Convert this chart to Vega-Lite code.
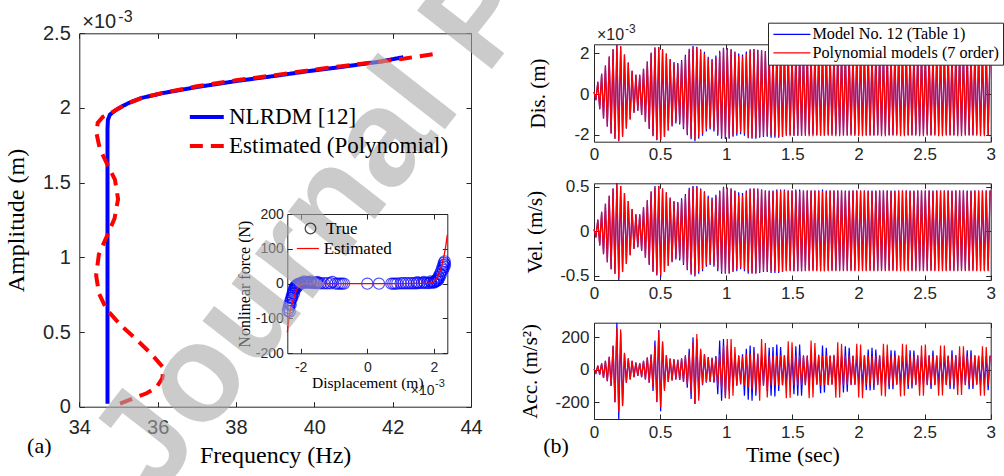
{
"$schema": "https://vega.github.io/schema/vega-lite/v6.json",
"width": 1004, "height": 476, "padding": 0, "autosize": {"type": "none"},
"background": "white",
"config": {
  "view": {"stroke": null},
  "axis": {"grid": false, "labelFlush": false, "labelOverlap": false, "tickSize": -5, "tickColor": "#262626", "domainColor": "#262626", "labelColor": "#262626", "labelFont": "Liberation Sans", "titleFont": "Liberation Serif", "titleFontWeight": "normal", "titleColor": "#000000"},
  "legend": {"labelFont": "Liberation Serif", "labelColor": "#000000", "labelLimit": 500}
},
"datasets": {
  "nlrdm": [{"i":0,"f":34.72,"a":0.02},{"i":1,"f":34.72,"a":1.0},{"i":2,"f":34.72,"a":1.86},{"i":3,"f":34.73,"a":1.92},{"i":4,"f":34.78,"a":1.955},{"i":5,"f":34.9,"a":1.98},{"i":6,"f":35.1,"a":2.012},{"i":7,"f":35.3,"a":2.038},{"i":8,"f":35.6,"a":2.068},{"i":9,"f":36.14,"a":2.1},{"i":10,"f":37.0,"a":2.14},{"i":11,"f":38.0,"a":2.18},{"i":12,"f":39.0,"a":2.215},{"i":13,"f":39.8,"a":2.245},{"i":14,"f":40.7,"a":2.275},{"i":15,"f":41.67,"a":2.31},{"i":16,"f":42.27,"a":2.34}],
  "poly": [{"i":0,"f":35.04,"a":0.02},{"i":1,"f":35.38,"a":0.056},{"i":2,"f":35.72,"a":0.09},{"i":3,"f":35.97,"a":0.13},{"i":4,"f":36.12,"a":0.19},{"i":5,"f":36.15,"a":0.26},{"i":6,"f":35.85,"a":0.35},{"i":7,"f":35.46,"a":0.45},{"i":8,"f":35.08,"a":0.54},{"i":9,"f":34.7,"a":0.65},{"i":10,"f":34.5,"a":0.76},{"i":11,"f":34.43,"a":0.88},{"i":12,"f":34.5,"a":1.02},{"i":13,"f":34.7,"a":1.14},{"i":14,"f":34.9,"a":1.26},{"i":15,"f":34.99,"a":1.39},{"i":16,"f":34.91,"a":1.52},{"i":17,"f":34.7,"a":1.63},{"i":18,"f":34.52,"a":1.73},{"i":19,"f":34.44,"a":1.83},{"i":20,"f":34.47,"a":1.9},{"i":21,"f":34.6,"a":1.94},{"i":22,"f":34.78,"a":1.962},{"i":23,"f":34.95,"a":1.99},{"i":24,"f":35.2,"a":2.025},{"i":25,"f":35.6,"a":2.068},{"i":26,"f":36.14,"a":2.102},{"i":27,"f":37.0,"a":2.145},{"i":28,"f":38.0,"a":2.185},{"i":29,"f":39.0,"a":2.22},{"i":30,"f":39.8,"a":2.25},{"i":31,"f":40.7,"a":2.28},{"i":32,"f":41.67,"a":2.31},{"i":33,"f":42.27,"a":2.33},{"i":34,"f":43.03,"a":2.36}],
  "force": [{"x":-2.38,"f":-78},{"x":-2.36,"f":-70},{"x":-2.34,"f":-62},{"x":-2.32,"f":-55},{"x":-2.3,"f":-48},{"x":-2.28,"f":-42},{"x":-2.26,"f":-35},{"x":-2.24,"f":-28},{"x":-2.22,"f":-22},{"x":-2.2,"f":-17},{"x":-2.18,"f":-12},{"x":-2.16,"f":-8},{"x":-2.13,"f":-5},{"x":-2.1,"f":-3},{"x":-2.07,"f":-1},{"x":-2.04,"f":0},{"x":-2.0,"f":1},{"x":-1.96,"f":2},{"x":-1.92,"f":3},{"x":-1.88,"f":3},{"x":-1.84,"f":4},{"x":-1.8,"f":3},{"x":-1.76,"f":4},{"x":-1.72,"f":3},{"x":-1.68,"f":3},{"x":-1.64,"f":2},{"x":-1.6,"f":3},{"x":-1.56,"f":2},{"x":-1.52,"f":2},{"x":-1.46,"f":2},{"x":-1.4,"f":1},{"x":-1.3,"f":1},{"x":-1.2,"f":1},{"x":-1.1,"f":1},{"x":-1.05,"f":5},{"x":-0.95,"f":0},{"x":-0.88,"f":0},{"x":-0.82,"f":0},{"x":-0.76,"f":0},{"x":-0.7,"f":0},{"x":0.0,"f":0},{"x":0.35,"f":0},{"x":0.72,"f":0},{"x":0.78,"f":0},{"x":0.84,"f":0},{"x":0.9,"f":0},{"x":1.0,"f":1},{"x":1.08,"f":1},{"x":1.16,"f":1},{"x":1.24,"f":1},{"x":1.32,"f":1},{"x":1.4,"f":1},{"x":1.48,"f":1},{"x":1.56,"f":2},{"x":1.64,"f":2},{"x":1.72,"f":2},{"x":1.8,"f":2},{"x":1.86,"f":2},{"x":1.92,"f":3},{"x":1.98,"f":4},{"x":2.02,"f":6},{"x":2.06,"f":9},{"x":2.1,"f":14},{"x":2.14,"f":20},{"x":2.18,"f":28},{"x":2.22,"f":36},{"x":2.25,"f":45},{"x":2.28,"f":53},{"x":2.3,"f":60},{"x":2.32,"f":64},{"x":2.33,"f":55},{"x":2.31,"f":48},{"x":2.27,"f":40},{"x":2.2,"f":25},{"x":2.12,"f":10},{"x":-2.33,"f":-80},{"x":-2.3,"f":-60},{"x":-2.25,"f":-40},{"x":-2.2,"f":-28},{"x":-2.15,"f":-15},{"x":-2.12,"f":-10},{"x":-2.08,"f":-6},{"x":-2.02,"f":-2},{"x":-1.9,"f":6},{"x":-1.7,"f":6},{"x":-1.5,"f":5},{"x":1.5,"f":4},{"x":1.7,"f":5},{"x":1.9,"f":6},{"x":2.0,"f":3},{"x":2.08,"f":7},{"x":2.16,"f":16}],
  "fit": [{"i":0,"x":-2.4,"f":-140},{"i":1,"x":-2.35,"f":-100},{"i":2,"x":-2.3,"f":-72},{"i":3,"x":-2.25,"f":-55},{"i":4,"x":-2.2,"f":-40},{"i":5,"x":-2.15,"f":-25},{"i":6,"x":-2.1,"f":-14},{"i":7,"x":-2.05,"f":-7},{"i":8,"x":-2.0,"f":-3},{"i":9,"x":-1.9,"f":0},{"i":10,"x":-1.5,"f":1},{"i":11,"x":-1.0,"f":0},{"i":12,"x":0,"f":0},{"i":13,"x":1.0,"f":0},{"i":14,"x":1.5,"f":1},{"i":15,"x":1.8,"f":1},{"i":16,"x":1.95,"f":3},{"i":17,"x":2.05,"f":10},{"i":18,"x":2.1,"f":18},{"i":19,"x":2.2,"f":40},{"i":20,"x":2.25,"f":58},{"i":21,"x":2.3,"f":80},{"i":22,"x":2.35,"f":105},{"i":23,"x":2.4,"f":140}],
  "osc": [
{"t":0,"d1":0.1,"d2":0.1,"v1":0.02,"v2":0.02,"a1":5,"a2":5},
{"t":0.0144,"d1":-0.3,"d2":-0.3,"v1":-0.07,"v2":-0.07,"a1":-20,"a2":-20},
{"t":0.0288,"d1":0.6,"d2":0.6,"v1":0.13,"v2":0.13,"a1":25,"a2":25},
{"t":0.0432,"d1":-0.75,"d2":-0.75,"v1":-0.16,"v2":-0.16,"a1":-30,"a2":-30},
{"t":0.0576,"d1":1.0,"d2":1.0,"v1":0.22,"v2":0.22,"a1":40,"a2":40},
{"t":0.072,"d1":-1.2,"d2":-1.2,"v1":-0.26,"v2":-0.26,"a1":-50,"a2":-50},
{"t":0.0864,"d1":1.4,"d2":1.4,"v1":0.31,"v2":0.31,"a1":55,"a2":55},
{"t":0.1008,"d1":-1.6,"d2":-1.6,"v1":-0.35,"v2":-0.35,"a1":-70,"a2":-70},
{"t":0.1152,"d1":1.85,"d2":1.85,"v1":0.4,"v2":0.4,"a1":80,"a2":80},
{"t":0.1296,"d1":-1.95,"d2":-1.95,"v1":-0.43,"v2":-0.43,"a1":-100,"a2":-100},
{"t":0.144,"d1":2.2,"d2":2.2,"v1":0.48,"v2":0.48,"a1":150,"a2":145},
{"t":0.1584,"d1":-2.2,"d2":-2.2,"v1":-0.48,"v2":-0.48,"a1":-200,"a2":-200},
{"t":0.1728,"d1":2.43,"d2":2.42,"v1":0.54,"v2":0.53,"a1":290,"a2":260},
{"t":0.1872,"d1":-2.33,"d2":-2.3,"v1":-0.55,"v2":-0.53,"a1":-303,"a2":-260},
{"t":0.2016,"d1":2.35,"d2":2.35,"v1":0.51,"v2":0.51,"a1":230,"a2":250},
{"t":0.216,"d1":-2.1,"d2":-2.1,"v1":-0.46,"v2":-0.46,"a1":-220,"a2":-225},
{"t":0.2304,"d1":1.95,"d2":1.95,"v1":0.43,"v2":0.43,"a1":100,"a2":105},
{"t":0.2448,"d1":-1.7,"d2":-1.7,"v1":-0.37,"v2":-0.37,"a1":-80,"a2":-80},
{"t":0.2592,"d1":1.55,"d2":1.55,"v1":0.34,"v2":0.34,"a1":70,"a2":70},
{"t":0.2736,"d1":-1.25,"d2":-1.25,"v1":-0.27,"v2":-0.27,"a1":-60,"a2":-60},
{"t":0.288,"d1":1.15,"d2":1.15,"v1":0.25,"v2":0.25,"a1":55,"a2":55},
{"t":0.3024,"d1":-0.92,"d2":-0.92,"v1":-0.2,"v2":-0.2,"a1":-45,"a2":-45},
{"t":0.3168,"d1":0.95,"d2":0.95,"v1":0.19,"v2":0.19,"a1":45,"a2":45},
{"t":0.3312,"d1":-0.82,"d2":-0.82,"v1":-0.18,"v2":-0.18,"a1":-38,"a2":-38},
{"t":0.3456,"d1":0.95,"d2":0.95,"v1":0.19,"v2":0.19,"a1":42,"a2":42},
{"t":0.36,"d1":-1.03,"d2":-1.03,"v1":-0.22,"v2":-0.22,"a1":-45,"a2":-45},
{"t":0.3744,"d1":1.25,"d2":1.25,"v1":0.27,"v2":0.27,"a1":55,"a2":55},
{"t":0.3888,"d1":-1.37,"d2":-1.37,"v1":-0.3,"v2":-0.3,"a1":-60,"a2":-60},
{"t":0.4032,"d1":1.6,"d2":1.6,"v1":0.35,"v2":0.35,"a1":75,"a2":75},
{"t":0.4176,"d1":-1.72,"d2":-1.7,"v1":-0.38,"v2":-0.37,"a1":-80,"a2":-80},
{"t":0.432,"d1":2.05,"d2":2.0,"v1":0.45,"v2":0.44,"a1":95,"a2":90},
{"t":0.4464,"d1":-2.08,"d2":-2.05,"v1":-0.46,"v2":-0.45,"a1":-130,"a2":-110},
{"t":0.4608,"d1":2.3,"d2":2.25,"v1":0.51,"v2":0.49,"a1":180,"a2":150},
{"t":0.4752,"d1":-2.28,"d2":-2.25,"v1":-0.5,"v2":-0.49,"a1":-200,"a2":-195},
{"t":0.4896,"d1":2.32,"d2":2.3,"v1":0.51,"v2":0.51,"a1":245,"a2":240},
{"t":0.504,"d1":-2.27,"d2":-2.25,"v1":-0.52,"v2":-0.5,"a1":-255,"a2":-230},
{"t":0.5184,"d1":2.2,"d2":2.2,"v1":0.48,"v2":0.48,"a1":170,"a2":175},
{"t":0.5328,"d1":-2.1,"d2":-2.1,"v1":-0.46,"v2":-0.46,"a1":-120,"a2":-130},
{"t":0.5472,"d1":2.0,"d2":2.0,"v1":0.44,"v2":0.44,"a1":90,"a2":90},
{"t":0.5616,"d1":-1.8,"d2":-1.8,"v1":-0.39,"v2":-0.39,"a1":-75,"a2":-75},
{"t":0.576,"d1":1.72,"d2":1.7,"v1":0.38,"v2":0.37,"a1":70,"a2":70},
{"t":0.5904,"d1":-1.6,"d2":-1.55,"v1":-0.35,"v2":-0.34,"a1":-65,"a2":-65},
{"t":0.6048,"d1":1.58,"d2":1.5,"v1":0.34,"v2":0.33,"a1":65,"a2":65},
{"t":0.6192,"d1":-1.45,"d2":-1.37,"v1":-0.32,"v2":-0.3,"a1":-60,"a2":-60},
{"t":0.6336,"d1":1.53,"d2":1.45,"v1":0.33,"v2":0.32,"a1":62,"a2":62},
{"t":0.648,"d1":-1.5,"d2":-1.42,"v1":-0.33,"v2":-0.31,"a1":-62,"a2":-62},
{"t":0.6624,"d1":1.68,"d2":1.6,"v1":0.37,"v2":0.35,"a1":70,"a2":70},
{"t":0.6768,"d1":-1.73,"d2":-1.65,"v1":-0.38,"v2":-0.36,"a1":-75,"a2":-72},
{"t":0.6912,"d1":1.93,"d2":1.85,"v1":0.42,"v2":0.4,"a1":90,"a2":85},
{"t":0.7056,"d1":-2.03,"d2":-1.95,"v1":-0.44,"v2":-0.43,"a1":-110,"a2":-90},
{"t":0.72,"d1":2.23,"d2":2.15,"v1":0.49,"v2":0.47,"a1":130,"a2":100},
{"t":0.7344,"d1":-2.23,"d2":-2.15,"v1":-0.49,"v2":-0.47,"a1":-180,"a2":-140},
{"t":0.7488,"d1":2.36,"d2":2.3,"v1":0.51,"v2":0.5,"a1":200,"a2":170},
{"t":0.7632,"d1":-2.33,"d2":-2.25,"v1":-0.51,"v2":-0.49,"a1":-210,"a2":-210},
{"t":0.7776,"d1":2.33,"d2":2.3,"v1":0.51,"v2":0.5,"a1":190,"a2":220},
{"t":0.792,"d1":-2.2,"d2":-2.1,"v1":-0.48,"v2":-0.46,"a1":-160,"a2":-190},
{"t":0.8064,"d1":2.2,"d2":2.15,"v1":0.48,"v2":0.47,"a1":120,"a2":130},
{"t":0.8208,"d1":-2.05,"d2":-1.95,"v1":-0.45,"v2":-0.43,"a1":-95,"a2":-90},
{"t":0.8352,"d1":2.08,"d2":2.0,"v1":0.45,"v2":0.44,"a1":95,"a2":95},
{"t":0.8496,"d1":-1.85,"d2":-1.75,"v1":-0.4,"v2":-0.38,"a1":-80,"a2":-75},
{"t":0.864,"d1":1.83,"d2":1.75,"v1":0.4,"v2":0.38,"a1":78,"a2":75},
{"t":0.8784,"d1":-1.75,"d2":-1.65,"v1":-0.38,"v2":-0.36,"a1":-75,"a2":-70},
{"t":0.8928,"d1":1.73,"d2":1.65,"v1":0.38,"v2":0.36,"a1":75,"a2":70},
{"t":0.9072,"d1":-1.85,"d2":-1.75,"v1":-0.4,"v2":-0.38,"a1":-80,"a2":-75},
{"t":0.9216,"d1":1.9,"d2":1.8,"v1":0.41,"v2":0.39,"a1":85,"a2":80},
{"t":0.936,"d1":-2.05,"d2":-1.95,"v1":-0.45,"v2":-0.43,"a1":-150,"a2":-100},
{"t":0.9504,"d1":2.13,"d2":2.05,"v1":0.46,"v2":0.45,"a1":180,"a2":95},
{"t":0.9648,"d1":-2.2,"d2":-2.1,"v1":-0.48,"v2":-0.46,"a1":-190,"a2":-120},
{"t":0.9792,"d1":2.28,"d2":2.25,"v1":0.5,"v2":0.49,"a1":190,"a2":150},
{"t":0.9936,"d1":-2.22,"d2":-2.15,"v1":-0.48,"v2":-0.47,"a1":-175,"a2":-170},
{"t":1.008,"d1":2.27,"d2":2.25,"v1":0.49,"v2":0.49,"a1":150,"a2":190},
{"t":1.0224,"d1":-2.2,"d2":-2.15,"v1":-0.48,"v2":-0.47,"a1":-130,"a2":-180},
{"t":1.0368,"d1":2.2,"d2":2.2,"v1":0.48,"v2":0.48,"a1":110,"a2":190},
{"t":1.0512,"d1":-2.1,"d2":-2.05,"v1":-0.46,"v2":-0.45,"a1":-100,"a2":-160},
{"t":1.0656,"d1":2.1,"d2":2.05,"v1":0.46,"v2":0.45,"a1":95,"a2":140},
{"t":1.08,"d1":-2.05,"d2":-1.95,"v1":-0.45,"v2":-0.43,"a1":-95,"a2":-100},
{"t":1.0944,"d1":2.0,"d2":1.9,"v1":0.44,"v2":0.41,"a1":90,"a2":85},
{"t":1.1088,"d1":-1.98,"d2":-1.88,"v1":-0.43,"v2":-0.41,"a1":-90,"a2":-85},
{"t":1.1232,"d1":1.95,"d2":1.85,"v1":0.43,"v2":0.4,"a1":95,"a2":82},
{"t":1.1376,"d1":-2.05,"d2":-1.95,"v1":-0.45,"v2":-0.43,"a1":-160,"a2":-95},
{"t":1.152,"d1":2.1,"d2":2.0,"v1":0.46,"v2":0.44,"a1":130,"a2":95},
{"t":1.1664,"d1":-2.18,"d2":-2.1,"v1":-0.48,"v2":-0.46,"a1":-185,"a2":-110},
{"t":1.1808,"d1":2.2,"d2":2.15,"v1":0.48,"v2":0.47,"a1":150,"a2":100},
{"t":1.1952,"d1":-2.2,"d2":-2.15,"v1":-0.48,"v2":-0.47,"a1":-190,"a2":-120},
{"t":1.2096,"d1":2.22,"d2":2.2,"v1":0.48,"v2":0.48,"a1":140,"a2":110},
{"t":1.224,"d1":-2.2,"d2":-2.15,"v1":-0.48,"v2":-0.47,"a1":-160,"a2":-130},
{"t":1.2384,"d1":2.18,"d2":2.15,"v1":0.48,"v2":0.47,"a1":95,"a2":100},
{"t":1.2528,"d1":-2.15,"d2":-2.1,"v1":-0.47,"v2":-0.46,"a1":-100,"a2":-190},
{"t":1.2672,"d1":2.15,"d2":2.15,"v1":0.47,"v2":0.47,"a1":90,"a2":190},
{"t":1.2816,"d1":-2.12,"d2":-2.05,"v1":-0.46,"v2":-0.45,"a1":-95,"a2":-100},
{"t":1.296,"d1":2.12,"d2":2.1,"v1":0.46,"v2":0.46,"a1":90,"a2":165},
{"t":1.3104,"d1":-2.1,"d2":-2.05,"v1":-0.46,"v2":-0.45,"a1":-130,"a2":-170},
{"t":1.3248,"d1":2.1,"d2":2.05,"v1":0.46,"v2":0.45,"a1":135,"a2":90},
{"t":1.3392,"d1":-2.15,"d2":-2.05,"v1":-0.47,"v2":-0.45,"a1":-160,"a2":-95},
{"t":1.3536,"d1":2.12,"d2":2.05,"v1":0.46,"v2":0.45,"a1":140,"a2":90},
{"t":1.368,"d1":-2.15,"d2":-2.05,"v1":-0.47,"v2":-0.45,"a1":-165,"a2":-95},
{"t":1.3824,"d1":2.15,"d2":2.1,"v1":0.47,"v2":0.46,"a1":155,"a2":90},
{"t":1.3968,"d1":-2.15,"d2":-2.1,"v1":-0.47,"v2":-0.46,"a1":-130,"a2":-95},
{"t":1.4112,"d1":2.17,"d2":2.12,"v1":0.47,"v2":0.46,"a1":140,"a2":90},
{"t":1.4256,"d1":-2.12,"d2":-2.1,"v1":-0.46,"v2":-0.46,"a1":-95,"a2":-95},
{"t":1.44,"d1":2.15,"d2":2.12,"v1":0.47,"v2":0.46,"a1":90,"a2":90},
{"t":1.4544,"d1":-2.0,"d2":-2.07,"v1":-0.44,"v2":-0.45,"a1":-90,"a2":-175},
{"t":1.4688,"d1":2.12,"d2":2.1,"v1":0.46,"v2":0.46,"a1":88,"a2":175},
{"t":1.4832,"d1":-2.02,"d2":-2.08,"v1":-0.44,"v2":-0.45,"a1":-92,"a2":-172},
{"t":1.4976,"d1":2.12,"d2":2.1,"v1":0.46,"v2":0.46,"a1":85,"a2":170},
{"t":1.512,"d1":-2.05,"d2":-2.05,"v1":-0.45,"v2":-0.45,"a1":-150,"a2":-95},
{"t":1.5264,"d1":2.14,"d2":2.08,"v1":0.47,"v2":0.45,"a1":145,"a2":88},
{"t":1.5408,"d1":-2.05,"d2":-2.05,"v1":-0.45,"v2":-0.45,"a1":-160,"a2":-95},
{"t":1.5552,"d1":2.15,"d2":2.08,"v1":0.47,"v2":0.45,"a1":155,"a2":88},
{"t":1.5696,"d1":-2.05,"d2":-2.06,"v1":-0.45,"v2":-0.45,"a1":-160,"a2":-92},
{"t":1.584,"d1":2.12,"d2":2.1,"v1":0.46,"v2":0.46,"a1":90,"a2":85},
{"t":1.5984,"d1":-2.0,"d2":-2.07,"v1":-0.44,"v2":-0.45,"a1":-95,"a2":-92},
{"t":1.6128,"d1":2.1,"d2":2.1,"v1":0.46,"v2":0.46,"a1":85,"a2":90},
{"t":1.6272,"d1":-2.0,"d2":-2.08,"v1":-0.44,"v2":-0.45,"a1":-92,"a2":-175},
{"t":1.6416,"d1":2.1,"d2":2.12,"v1":0.46,"v2":0.46,"a1":85,"a2":180},
{"t":1.656,"d1":-2.0,"d2":-2.08,"v1":-0.44,"v2":-0.45,"a1":-90,"a2":-170},
{"t":1.6704,"d1":2.1,"d2":2.12,"v1":0.46,"v2":0.46,"a1":88,"a2":165},
{"t":1.6848,"d1":-2.02,"d2":-2.06,"v1":-0.44,"v2":-0.45,"a1":-90,"a2":-92},
{"t":1.6992,"d1":2.12,"d2":2.1,"v1":0.46,"v2":0.46,"a1":92,"a2":88},
{"t":1.7136,"d1":-2.04,"d2":-2.05,"v1":-0.45,"v2":-0.45,"a1":-145,"a2":-95},
{"t":1.728,"d1":2.14,"d2":2.08,"v1":0.47,"v2":0.45,"a1":150,"a2":85},
{"t":1.7424,"d1":-2.04,"d2":-2.05,"v1":-0.45,"v2":-0.45,"a1":-140,"a2":-92},
{"t":1.7568,"d1":2.13,"d2":2.08,"v1":0.46,"v2":0.45,"a1":135,"a2":88},
{"t":1.7712,"d1":-2.0,"d2":-2.06,"v1":-0.44,"v2":-0.45,"a1":-92,"a2":-95},
{"t":1.7856,"d1":2.1,"d2":2.1,"v1":0.46,"v2":0.46,"a1":85,"a2":90},
{"t":1.8,"d1":-2.0,"d2":-2.07,"v1":-0.44,"v2":-0.45,"a1":-90,"a2":-92},
{"t":1.8144,"d1":2.1,"d2":2.1,"v1":0.46,"v2":0.46,"a1":88,"a2":92},
{"t":1.8288,"d1":-2.0,"d2":-2.08,"v1":-0.44,"v2":-0.45,"a1":-92,"a2":-172},
{"t":1.8432,"d1":2.1,"d2":2.12,"v1":0.46,"v2":0.46,"a1":85,"a2":170},
{"t":1.8576,"d1":-2.0,"d2":-2.08,"v1":-0.44,"v2":-0.45,"a1":-90,"a2":-170},
{"t":1.872,"d1":2.1,"d2":2.1,"v1":0.46,"v2":0.46,"a1":88,"a2":160},
{"t":1.8864,"d1":-2.03,"d2":-2.05,"v1":-0.44,"v2":-0.45,"a1":-140,"a2":-95},
{"t":1.9008,"d1":2.13,"d2":2.08,"v1":0.46,"v2":0.45,"a1":145,"a2":88},
{"t":1.9152,"d1":-2.03,"d2":-2.05,"v1":-0.44,"v2":-0.45,"a1":-135,"a2":-92},
{"t":1.9296,"d1":2.12,"d2":2.08,"v1":0.46,"v2":0.45,"a1":135,"a2":90},
{"t":1.944,"d1":-2.0,"d2":-2.06,"v1":-0.44,"v2":-0.45,"a1":-90,"a2":-95},
{"t":1.9584,"d1":2.1,"d2":2.1,"v1":0.46,"v2":0.46,"a1":88,"a2":85},
{"t":1.9728,"d1":-2.0,"d2":-2.07,"v1":-0.44,"v2":-0.45,"a1":-92,"a2":-92},
{"t":1.9872,"d1":2.1,"d2":2.1,"v1":0.46,"v2":0.46,"a1":85,"a2":160},
{"t":2.0016,"d1":-2.0,"d2":-2.08,"v1":-0.44,"v2":-0.45,"a1":-90,"a2":-170},
{"t":2.016,"d1":2.1,"d2":2.12,"v1":0.46,"v2":0.46,"a1":88,"a2":155},
{"t":2.0304,"d1":-2.0,"d2":-2.08,"v1":-0.44,"v2":-0.45,"a1":-92,"a2":-175},
{"t":2.0448,"d1":2.1,"d2":2.1,"v1":0.46,"v2":0.46,"a1":90,"a2":88},
{"t":2.0592,"d1":-2.03,"d2":-2.05,"v1":-0.44,"v2":-0.45,"a1":-125,"a2":-92},
{"t":2.0736,"d1":2.12,"d2":2.08,"v1":0.46,"v2":0.45,"a1":125,"a2":88},
{"t":2.088,"d1":-2.03,"d2":-2.05,"v1":-0.44,"v2":-0.45,"a1":-128,"a2":-95},
{"t":2.1024,"d1":2.13,"d2":2.08,"v1":0.46,"v2":0.45,"a1":135,"a2":85},
{"t":2.1168,"d1":-2.03,"d2":-2.05,"v1":-0.44,"v2":-0.45,"a1":-125,"a2":-92},
{"t":2.1312,"d1":2.12,"d2":2.08,"v1":0.46,"v2":0.45,"a1":125,"a2":88},
{"t":2.1456,"d1":-2.0,"d2":-2.06,"v1":-0.44,"v2":-0.45,"a1":-90,"a2":-95},
{"t":2.16,"d1":2.1,"d2":2.1,"v1":0.46,"v2":0.46,"a1":88,"a2":90},
{"t":2.1744,"d1":-2.0,"d2":-2.08,"v1":-0.44,"v2":-0.45,"a1":-90,"a2":-160},
{"t":2.1888,"d1":2.1,"d2":2.12,"v1":0.46,"v2":0.46,"a1":85,"a2":160},
{"t":2.2032,"d1":-2.0,"d2":-2.08,"v1":-0.44,"v2":-0.45,"a1":-92,"a2":-165},
{"t":2.2176,"d1":2.1,"d2":2.1,"v1":0.46,"v2":0.46,"a1":88,"a2":155},
{"t":2.232,"d1":-2.02,"d2":-2.05,"v1":-0.44,"v2":-0.45,"a1":-120,"a2":-92},
{"t":2.2464,"d1":2.12,"d2":2.08,"v1":0.46,"v2":0.45,"a1":120,"a2":88},
{"t":2.2608,"d1":-2.02,"d2":-2.05,"v1":-0.44,"v2":-0.45,"a1":-120,"a2":-95},
{"t":2.2752,"d1":2.12,"d2":2.08,"v1":0.46,"v2":0.45,"a1":118,"a2":85},
{"t":2.2896,"d1":-2.0,"d2":-2.06,"v1":-0.44,"v2":-0.45,"a1":-90,"a2":-92},
{"t":2.304,"d1":2.1,"d2":2.1,"v1":0.46,"v2":0.46,"a1":85,"a2":90},
{"t":2.3184,"d1":-2.0,"d2":-2.08,"v1":-0.44,"v2":-0.45,"a1":-92,"a2":-165},
{"t":2.3328,"d1":2.1,"d2":2.12,"v1":0.46,"v2":0.46,"a1":88,"a2":160},
{"t":2.3472,"d1":-2.0,"d2":-2.08,"v1":-0.44,"v2":-0.45,"a1":-90,"a2":-160},
{"t":2.3616,"d1":2.1,"d2":2.1,"v1":0.46,"v2":0.46,"a1":85,"a2":155},
{"t":2.376,"d1":-2.02,"d2":-2.05,"v1":-0.44,"v2":-0.45,"a1":-118,"a2":-95},
{"t":2.3904,"d1":2.12,"d2":2.08,"v1":0.46,"v2":0.45,"a1":120,"a2":88},
{"t":2.4048,"d1":-2.02,"d2":-2.05,"v1":-0.44,"v2":-0.45,"a1":-115,"a2":-92},
{"t":2.4192,"d1":2.12,"d2":2.08,"v1":0.46,"v2":0.45,"a1":118,"a2":85},
{"t":2.4336,"d1":-2.0,"d2":-2.06,"v1":-0.44,"v2":-0.45,"a1":-90,"a2":-95},
{"t":2.448,"d1":2.1,"d2":2.1,"v1":0.46,"v2":0.46,"a1":88,"a2":90},
{"t":2.4624,"d1":-2.0,"d2":-2.08,"v1":-0.44,"v2":-0.45,"a1":-92,"a2":-160},
{"t":2.4768,"d1":2.1,"d2":2.12,"v1":0.46,"v2":0.46,"a1":85,"a2":150},
{"t":2.4912,"d1":-2.0,"d2":-2.08,"v1":-0.44,"v2":-0.45,"a1":-90,"a2":-160},
{"t":2.5056,"d1":2.1,"d2":2.1,"v1":0.46,"v2":0.46,"a1":88,"a2":155},
{"t":2.52,"d1":-2.0,"d2":-2.06,"v1":-0.44,"v2":-0.45,"a1":-92,"a2":-95},
{"t":2.5344,"d1":2.1,"d2":2.1,"v1":0.46,"v2":0.46,"a1":90,"a2":88},
{"t":2.5488,"d1":-2.02,"d2":-2.05,"v1":-0.44,"v2":-0.45,"a1":-118,"a2":-92},
{"t":2.5632,"d1":2.12,"d2":2.08,"v1":0.46,"v2":0.45,"a1":118,"a2":85},
{"t":2.5776,"d1":-2.0,"d2":-2.06,"v1":-0.44,"v2":-0.45,"a1":-92,"a2":-95},
{"t":2.592,"d1":2.1,"d2":2.1,"v1":0.46,"v2":0.46,"a1":85,"a2":90},
{"t":2.6064,"d1":-2.0,"d2":-2.08,"v1":-0.44,"v2":-0.45,"a1":-90,"a2":-160},
{"t":2.6208,"d1":2.1,"d2":2.12,"v1":0.46,"v2":0.46,"a1":88,"a2":150},
{"t":2.6352,"d1":-2.0,"d2":-2.08,"v1":-0.44,"v2":-0.45,"a1":-92,"a2":-158},
{"t":2.6496,"d1":2.1,"d2":2.1,"v1":0.46,"v2":0.46,"a1":85,"a2":150},
{"t":2.664,"d1":-2.0,"d2":-2.06,"v1":-0.44,"v2":-0.45,"a1":-90,"a2":-95},
{"t":2.6784,"d1":2.1,"d2":2.1,"v1":0.46,"v2":0.46,"a1":88,"a2":85},
{"t":2.6928,"d1":-2.02,"d2":-2.05,"v1":-0.44,"v2":-0.45,"a1":-118,"a2":-92},
{"t":2.7072,"d1":2.12,"d2":2.08,"v1":0.46,"v2":0.45,"a1":120,"a2":88},
{"t":2.7216,"d1":-2.02,"d2":-2.05,"v1":-0.44,"v2":-0.45,"a1":-120,"a2":-95},
{"t":2.736,"d1":2.1,"d2":2.1,"v1":0.46,"v2":0.46,"a1":90,"a2":90},
{"t":2.7504,"d1":-2.0,"d2":-2.08,"v1":-0.44,"v2":-0.45,"a1":-92,"a2":-155},
{"t":2.7648,"d1":2.1,"d2":2.12,"v1":0.46,"v2":0.46,"a1":85,"a2":145},
{"t":2.7792,"d1":-2.0,"d2":-2.08,"v1":-0.44,"v2":-0.45,"a1":-90,"a2":-155},
{"t":2.7936,"d1":2.1,"d2":2.1,"v1":0.46,"v2":0.46,"a1":88,"a2":145},
{"t":2.808,"d1":-2.0,"d2":-2.06,"v1":-0.44,"v2":-0.45,"a1":-92,"a2":-95},
{"t":2.8224,"d1":2.12,"d2":2.08,"v1":0.46,"v2":0.45,"a1":120,"a2":85},
{"t":2.8368,"d1":-2.02,"d2":-2.05,"v1":-0.44,"v2":-0.45,"a1":-120,"a2":-92},
{"t":2.8512,"d1":2.12,"d2":2.08,"v1":0.46,"v2":0.45,"a1":120,"a2":88},
{"t":2.8656,"d1":-2.02,"d2":-2.05,"v1":-0.44,"v2":-0.45,"a1":-118,"a2":-95},
{"t":2.88,"d1":2.1,"d2":2.1,"v1":0.46,"v2":0.46,"a1":88,"a2":90},
{"t":2.8944,"d1":-2.0,"d2":-2.06,"v1":-0.44,"v2":-0.45,"a1":-90,"a2":-92},
{"t":2.9088,"d1":2.1,"d2":2.1,"v1":0.46,"v2":0.46,"a1":85,"a2":88},
{"t":2.9232,"d1":-2.0,"d2":-2.08,"v1":-0.44,"v2":-0.45,"a1":-92,"a2":-160},
{"t":2.9376,"d1":2.1,"d2":2.12,"v1":0.46,"v2":0.46,"a1":88,"a2":145},
{"t":2.952,"d1":-2.0,"d2":-2.08,"v1":-0.44,"v2":-0.45,"a1":-90,"a2":-160},
{"t":2.9664,"d1":2.1,"d2":2.1,"v1":0.46,"v2":0.46,"a1":85,"a2":140},
{"t":2.9808,"d1":-2.02,"d2":-2.05,"v1":-0.44,"v2":-0.45,"a1":-125,"a2":-95},
{"t":2.9952,"d1":2.1,"d2":2.1,"v1":0.46,"v2":0.46,"a1":88,"a2":85}
  ]
},
"layer": [
  {
    "layer": [
      {"data": {"name": "force"},
       "mark": {"type": "point", "shape": "circle", "filled": false, "color": "#0000ff", "strokeWidth": 1.2, "size": 125},
       "encoding": {
         "x": {"field": "x", "type": "quantitative", "scale": {"domain": [-2.4, 2.4], "range": [287.3, 447.3], "nice": false, "zero": false},
               "axis": {"orient": "bottom", "offset": -122.7, "values": [-2, 0, 2], "labelExpr": "datum.value + ''", "labelFontSize": 14, "labelPadding": 12, "title": "Displacement (m)", "titleFontSize": 15.5, "titlePadding": 1}},
         "y": {"field": "f", "type": "quantitative", "scale": {"domain": [-200, 200], "range": [353.3, 214], "nice": false, "zero": false},
               "axis": {"orient": "left", "offset": -287.3, "values": [-200, -100, 0, 100, 200], "labelExpr": "datum.value + ''", "labelFontSize": 14, "labelPadding": 9, "title": "Nonlinear force (N)", "titleFontSize": 16, "titlePadding": 3}},
         "shape": {"datum": "True", "scale": {"domain": ["True"], "range": ["circle"]},
                   "legend": {"orient": "none", "legendX": 302, "legendY": 220, "title": null, "symbolSize": 113, "symbolStrokeWidth": 1.3, "symbolStrokeColor": "#000000", "labelFontSize": 17, "labelOffset": 7, "padding": 0,
                              "encode": {"symbols": {"update": {"stroke": {"value": "#000000"}, "fill": {"value": "transparent"}}}}}}
       }},
      {"data": {"name": "fit"},
       "mark": {"type": "line", "strokeWidth": 1.3},
       "encoding": {
         "x": {"field": "x", "type": "quantitative", "axis": {"orient": "top", "offset": -214, "values": [-2, 0, 2], "labels": false, "title": null}},
         "y": {"field": "f", "type": "quantitative", "axis": {"orient": "right", "offset": -556.7, "values": [-200, -100, 0, 100, 200], "labels": false, "title": null}},
         "order": {"field": "i"},
         "color": {"datum": "Estimated", "scale": {"domain": ["Estimated"], "range": ["#ff0000"]},
                   "legend": {"orient": "none", "legendX": 292, "legendY": 240, "title": null, "symbolType": "M-1,0H5", "symbolSize": 54, "symbolStrokeWidth": 1.2, "labelFontSize": 17, "labelOffset": 14.7, "padding": 0}}
       }},
      {"data": {"values": [{}]},
       "mark": {"type": "text", "text": "×10", "align": "left", "baseline": "alphabetic", "font": "Liberation Sans", "fontSize": 14, "color": "#262626", "dx": -36.6, "dy": 41.7},
       "encoding": {"x": {"datum": 2.4, "axis": null}, "y": {"datum": -200, "axis": null}}},
      {"data": {"values": [{}]},
       "mark": {"type": "text", "text": "-3", "align": "left", "baseline": "alphabetic", "font": "Liberation Sans", "fontSize": 11, "color": "#262626", "dx": -12.3, "dy": 34},
       "encoding": {"x": {"datum": 2.4, "axis": null}, "y": {"datum": -200, "axis": null}}}
    ],
    "resolve": {"axis": {"x": "independent", "y": "independent"}}
  },
  {
    "layer": [
      {"data": {"name": "nlrdm"},
       "mark": {"type": "line", "strokeWidth": 4},
       "encoding": {
         "x": {"field": "f", "type": "quantitative", "scale": {"domain": [34, 44], "range": [79.3, 471], "nice": false, "zero": false},
               "axis": {"orient": "bottom", "offset": -69.3, "values": [34, 36, 38, 40, 42, 44], "labelExpr": "datum.value + ''", "labelFontSize": 20, "labelPadding": 16, "title": "Frequency (Hz)", "titleFontSize": 24, "titlePadding": 6}},
         "y": {"field": "a", "type": "quantitative", "scale": {"domain": [0, 2.5], "range": [406.7, 33.3], "nice": false, "zero": false},
               "axis": {"orient": "left", "offset": -79.3, "values": [0, 0.5, 1, 1.5, 2, 2.5], "labelExpr": "datum.value + ''", "labelFontSize": 20, "labelPadding": 14, "title": "Amplitude (m)", "titleFontSize": 24, "titlePadding": 14}},
         "order": {"field": "i"},
         "color": {"datum": "NLRDM [12]", "scale": {"domain": ["NLRDM [12]", "Estimated (Polynomial)"], "range": ["#0000ff", "#ff0000"]},
                   "legend": {"orient": "none", "legendX": 184, "legendY": 105.5, "title": null, "symbolType": "M-1,0H5", "symbolSize": 128, "symbolStrokeWidth": 4, "labelFontSize": 23, "labelOffset": 22, "rowPadding": 5, "padding": 0}},
         "strokeDash": {"datum": "NLRDM [12]", "scale": {"domain": ["NLRDM [12]", "Estimated (Polynomial)"], "range": [[1, 0], [13, 8]]},
                   "legend": {"orient": "none", "legendX": 184, "legendY": 105.5, "title": null, "symbolType": "M-1,0H5", "symbolSize": 128, "symbolStrokeWidth": 4, "labelFontSize": 23, "labelOffset": 22, "rowPadding": 5, "padding": 0}}
       }},
      {"data": {"name": "poly"},
       "mark": {"type": "line", "strokeWidth": 4},
       "encoding": {
         "x": {"field": "f", "type": "quantitative", "axis": {"orient": "top", "offset": -33.3, "values": [34, 36, 38, 40, 42, 44], "labels": false, "title": null}},
         "y": {"field": "a", "type": "quantitative", "axis": {"orient": "right", "offset": -533, "values": [0, 0.5, 1, 1.5, 2, 2.5], "labels": false, "title": null}},
         "order": {"field": "i"},
         "color": {"datum": "Estimated (Polynomial)"},
         "strokeDash": {"datum": "Estimated (Polynomial)"}
       }},
      {"data": {"values": [{}]},
       "mark": {"type": "text", "text": "×10", "align": "left", "baseline": "alphabetic", "font": "Liberation Sans", "fontSize": 20, "color": "#262626", "dx": 3, "dy": -5},
       "encoding": {"x": {"datum": 34, "axis": null}, "y": {"datum": 2.5, "axis": null}}},
      {"data": {"values": [{}]},
       "mark": {"type": "text", "text": "-3", "align": "left", "baseline": "alphabetic", "font": "Liberation Sans", "fontSize": 16, "color": "#262626", "dx": 39, "dy": -11},
       "encoding": {"x": {"datum": 34, "axis": null}, "y": {"datum": 2.5, "axis": null}}},
      {"data": {"values": [{}]},
       "mark": {"type": "text", "text": "(a)", "align": "center", "baseline": "alphabetic", "font": "Liberation Serif", "fontSize": 22, "color": "#000000", "dx": -40, "dy": 46},
       "encoding": {"x": {"datum": 34, "axis": null}, "y": {"datum": 0, "axis": null}}},
      {"data": {"values": [{}]},
       "mark": {"type": "text", "text": "Journal Pre-proof", "align": "left", "baseline": "alphabetic", "font": "Liberation Sans", "fontSize": 138, "fontWeight": "bold", "angle": 308, "color": "#a9a9a9", "opacity": 0.6},
       "encoding": {"x": {"datum": 35.95, "axis": null}, "y": {"datum": -0.62, "axis": null}}}
    ],
    "resolve": {"axis": {"x": "independent", "y": "independent"}}
  },
  {
    "data": {"name": "osc"},
    "layer": [
      {"mark": {"type": "line", "strokeWidth": 1.2},
       "encoding": {
         "x": {"field": "t", "type": "quantitative", "scale": {"domain": [0, 3], "range": [594, 990.7], "nice": false, "zero": false},
               "axis": {"orient": "bottom", "offset": -334.3, "values": [0, 0.5, 1, 1.5, 2, 2.5, 3], "labelExpr": "datum.value + ''", "labelFontSize": 17, "labelPadding": 10, "title": null}},
         "y": {"field": "d1", "type": "quantitative", "scale": {"domain": [-2.35, 2.45], "range": [141.7, 44.3], "nice": false, "zero": false},
               "axis": {"orient": "left", "offset": -594, "values": [-2, 0, 2], "labelExpr": "datum.value + ''", "labelFontSize": 17, "labelPadding": 10, "title": "Dis. (m)", "titleFontSize": 21, "titlePadding": 25}},
         "color": {"datum": "Model No. 12 (Table 1)", "scale": {"domain": ["Model No. 12 (Table 1)", "Polynomial models (7 order)"], "range": ["#0000ff", "#ff0000"]},
                   "legend": {"orient": "none", "legendX": 768, "legendY": 22.7, "title": null, "symbolType": "M-1,0H5", "symbolSize": 152, "symbolStrokeWidth": 1.2, "labelFontSize": 16.2, "labelOffset": 24.7, "rowPadding": 1.5, "padding": 3.5, "fillColor": "#ffffff", "strokeColor": "#262626"}}
       }},
      {"mark": {"type": "line", "strokeWidth": 1.2},
       "encoding": {
         "x": {"field": "t", "type": "quantitative", "axis": {"orient": "top", "offset": -44.3, "values": [0, 0.5, 1, 1.5, 2, 2.5, 3], "labels": false, "title": null}},
         "y": {"field": "d2", "type": "quantitative", "axis": {"orient": "right", "offset": -13.3, "values": [-2, 0, 2], "labels": false, "title": null}},
         "color": {"datum": "Polynomial models (7 order)"}
       }},
      {"data": {"values": [{}]},
       "mark": {"type": "text", "text": "×10", "align": "left", "baseline": "alphabetic", "font": "Liberation Sans", "fontSize": 16, "color": "#262626", "dx": 3, "dy": -4.8},
       "encoding": {"x": {"datum": 0, "axis": null}, "y": {"datum": 2.45, "axis": null}}},
      {"data": {"values": [{}]},
       "mark": {"type": "text", "text": "-3", "align": "left", "baseline": "alphabetic", "font": "Liberation Sans", "fontSize": 12, "color": "#262626", "dx": 31, "dy": -11},
       "encoding": {"x": {"datum": 0, "axis": null}, "y": {"datum": 2.45, "axis": null}}}
    ],
    "resolve": {"axis": {"x": "independent", "y": "independent"}}
  },
  {
    "data": {"name": "osc"},
    "layer": [
      {"mark": {"type": "line", "strokeWidth": 1.2, "color": "#0000ff"},
       "encoding": {
         "x": {"field": "t", "type": "quantitative", "scale": {"domain": [0, 3], "range": [594, 990.7], "nice": false, "zero": false},
               "axis": {"orient": "bottom", "offset": -196, "values": [0, 0.5, 1, 1.5, 2, 2.5, 3], "labelExpr": "datum.value + ''", "labelFontSize": 17, "labelPadding": 10, "title": null}},
         "y": {"field": "v1", "type": "quantitative", "scale": {"domain": [-0.55, 0.54], "range": [280, 183.3], "nice": false, "zero": false},
               "axis": {"orient": "left", "offset": -594, "values": [-0.5, 0, 0.5], "labelExpr": "datum.value + ''", "labelFontSize": 17, "labelPadding": 10, "title": "Vel. (m/s)", "titleFontSize": 21, "titlePadding": 14}}
       }},
      {"mark": {"type": "line", "strokeWidth": 1.2, "color": "#ff0000"},
       "encoding": {
         "x": {"field": "t", "type": "quantitative", "axis": {"orient": "top", "offset": -183.3, "values": [0, 0.5, 1, 1.5, 2, 2.5, 3], "labels": false, "title": null}},
         "y": {"field": "v2", "type": "quantitative", "axis": {"orient": "right", "offset": -13.3, "values": [-0.5, 0, 0.5], "labels": false, "title": null}}
       }}
    ],
    "resolve": {"axis": {"x": "independent", "y": "independent"}}
  },
  {
    "data": {"name": "osc"},
    "layer": [
      {"mark": {"type": "line", "strokeWidth": 1.2, "color": "#0000ff"},
       "encoding": {
         "x": {"field": "t", "type": "quantitative", "scale": {"domain": [0, 3], "range": [594, 990.7], "nice": false, "zero": false},
               "axis": {"orient": "bottom", "offset": -57, "values": [0, 0.5, 1, 1.5, 2, 2.5, 3], "labelExpr": "datum.value + ''", "labelFontSize": 17, "labelPadding": 10, "title": "Time (sec)", "titleFontSize": 22, "titlePadding": 4}},
         "y": {"field": "a1", "type": "quantitative", "scale": {"domain": [-303, 290], "range": [419, 322.7], "nice": false, "zero": false},
               "axis": {"orient": "left", "offset": -594, "values": [-200, 0, 200], "labelExpr": "datum.value + ''", "labelFontSize": 17, "labelPadding": 10, "title": "Acc. (m/s²)", "titleFontSize": 21, "titlePadding": 14}}
       }},
      {"mark": {"type": "line", "strokeWidth": 1.2, "color": "#ff0000"},
       "encoding": {
         "x": {"field": "t", "type": "quantitative", "axis": {"orient": "top", "offset": -322.7, "values": [0, 0.5, 1, 1.5, 2, 2.5, 3], "labels": false, "title": null}},
         "y": {"field": "a2", "type": "quantitative", "axis": {"orient": "right", "offset": -13.3, "values": [-200, 0, 200], "labels": false, "title": null}}
       }},
      {"data": {"values": [{}]},
       "mark": {"type": "text", "text": "(b)", "align": "center", "baseline": "alphabetic", "font": "Liberation Serif", "fontSize": 22, "color": "#000000", "dx": -38, "dy": 34},
       "encoding": {"x": {"datum": 0, "axis": null}, "y": {"datum": -303, "axis": null}}}
    ],
    "resolve": {"axis": {"x": "independent", "y": "independent"}}
  }
],
"resolve": {"scale": {"x": "independent", "y": "independent", "color": "independent", "shape": "independent", "strokeDash": "independent"}}
}
